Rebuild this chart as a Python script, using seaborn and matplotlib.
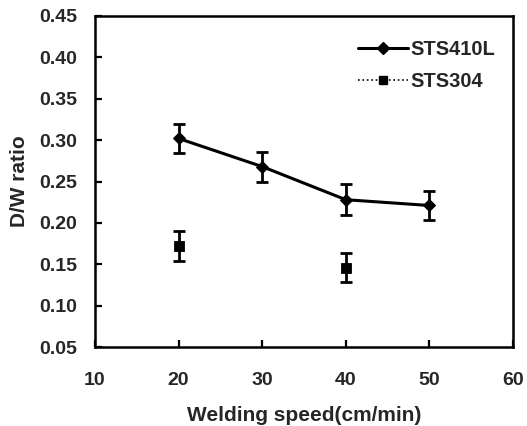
import numpy as np
import pandas as pd
import matplotlib
matplotlib.use("Agg")
import matplotlib.pyplot as plt
import seaborn as sns
from matplotlib.lines import Line2D

speed_410 = [20, 30, 40, 50]
dw_410 = [0.302, 0.268, 0.228, 0.221]
err_410 = [0.018, 0.018, 0.019, 0.018]

speed_304 = [20, 40]
dw_304 = [0.172, 0.146]
err_304 = [0.018, 0.018]

x_ticks = [10, 20, 30, 40, 50, 60]
y_ticks = [0.05, 0.10, 0.15, 0.20, 0.25, 0.30, 0.35, 0.40, 0.45]

sns.set_theme(style="ticks")
plt.rcParams['font.family'] = ['Liberation Sans', 'DejaVu Sans']
plt.rcParams['font.weight'] = 'bold'

fig = plt.figure(figsize=(5.27, 4.26), dpi=100)
ax = fig.add_axes([95/527, 1 - 347/426, (513 - 95)/527, (347 - 16)/426])

df410 = pd.DataFrame({"speed": speed_410, "dw": dw_410})
df304 = pd.DataFrame({"speed": speed_304, "dw": dw_304})

sns.lineplot(data=df410, x="speed", y="dw", ax=ax, color="black", lw=2.2,
             marker="D", markersize=6, markeredgecolor="black")
ax.errorbar(speed_410, dw_410, yerr=err_410, fmt="none", ecolor="black",
            elinewidth=2.0, capsize=4, capthick=2.0)
sns.scatterplot(data=df304, x="speed", y="dw", ax=ax, color="black",
                marker="s", s=55, edgecolor="black")
ax.errorbar(speed_304, dw_304, yerr=err_304, fmt="none", ecolor="black",
            elinewidth=2.0, capsize=4, capthick=2.0)

ax.set_xlim(10, 60)
ax.set_ylim(0.05, 0.45)
ax.set_xticks(x_ticks)
ax.set_yticks(y_ticks)
ax.set_xticklabels([str(t) for t in x_ticks], fontsize=14, fontweight="bold")
ax.set_yticklabels([f"{t:.2f}" for t in y_ticks], fontsize=14, fontweight="bold")
ax.tick_params(axis="both", direction="in", length=5, width=1.6, color="black",
               top=False, right=False)
ax.tick_params(axis="x", pad=18)
ax.tick_params(axis="y", pad=13)
for s in ax.spines.values():
    s.set_linewidth(1.8)
    s.set_color("black")

ax.set_xlabel("Welding speed(cm/min)", fontsize=15, fontweight="bold", labelpad=12)
ax.set_ylabel("D/W ratio", fontsize=15, fontweight="bold", labelpad=7)

handles = [
    Line2D([], [], color="black", lw=2.2, marker="D", markersize=6),
    Line2D([], [], color="black", lw=1.2, ls=":", marker="s", markersize=6),
]
leg = ax.legend(handles, ["STS410L", "STS304"], loc="upper right", frameon=False,
                bbox_to_anchor=(1.0, 1.0 - 6/331),
                prop={"weight": "bold", "size": 14.5}, handlelength=2.5,
                handletextpad=0.1, borderaxespad=0.5, labelspacing=0.65)

fig.savefig("out.png", dpi=100)
